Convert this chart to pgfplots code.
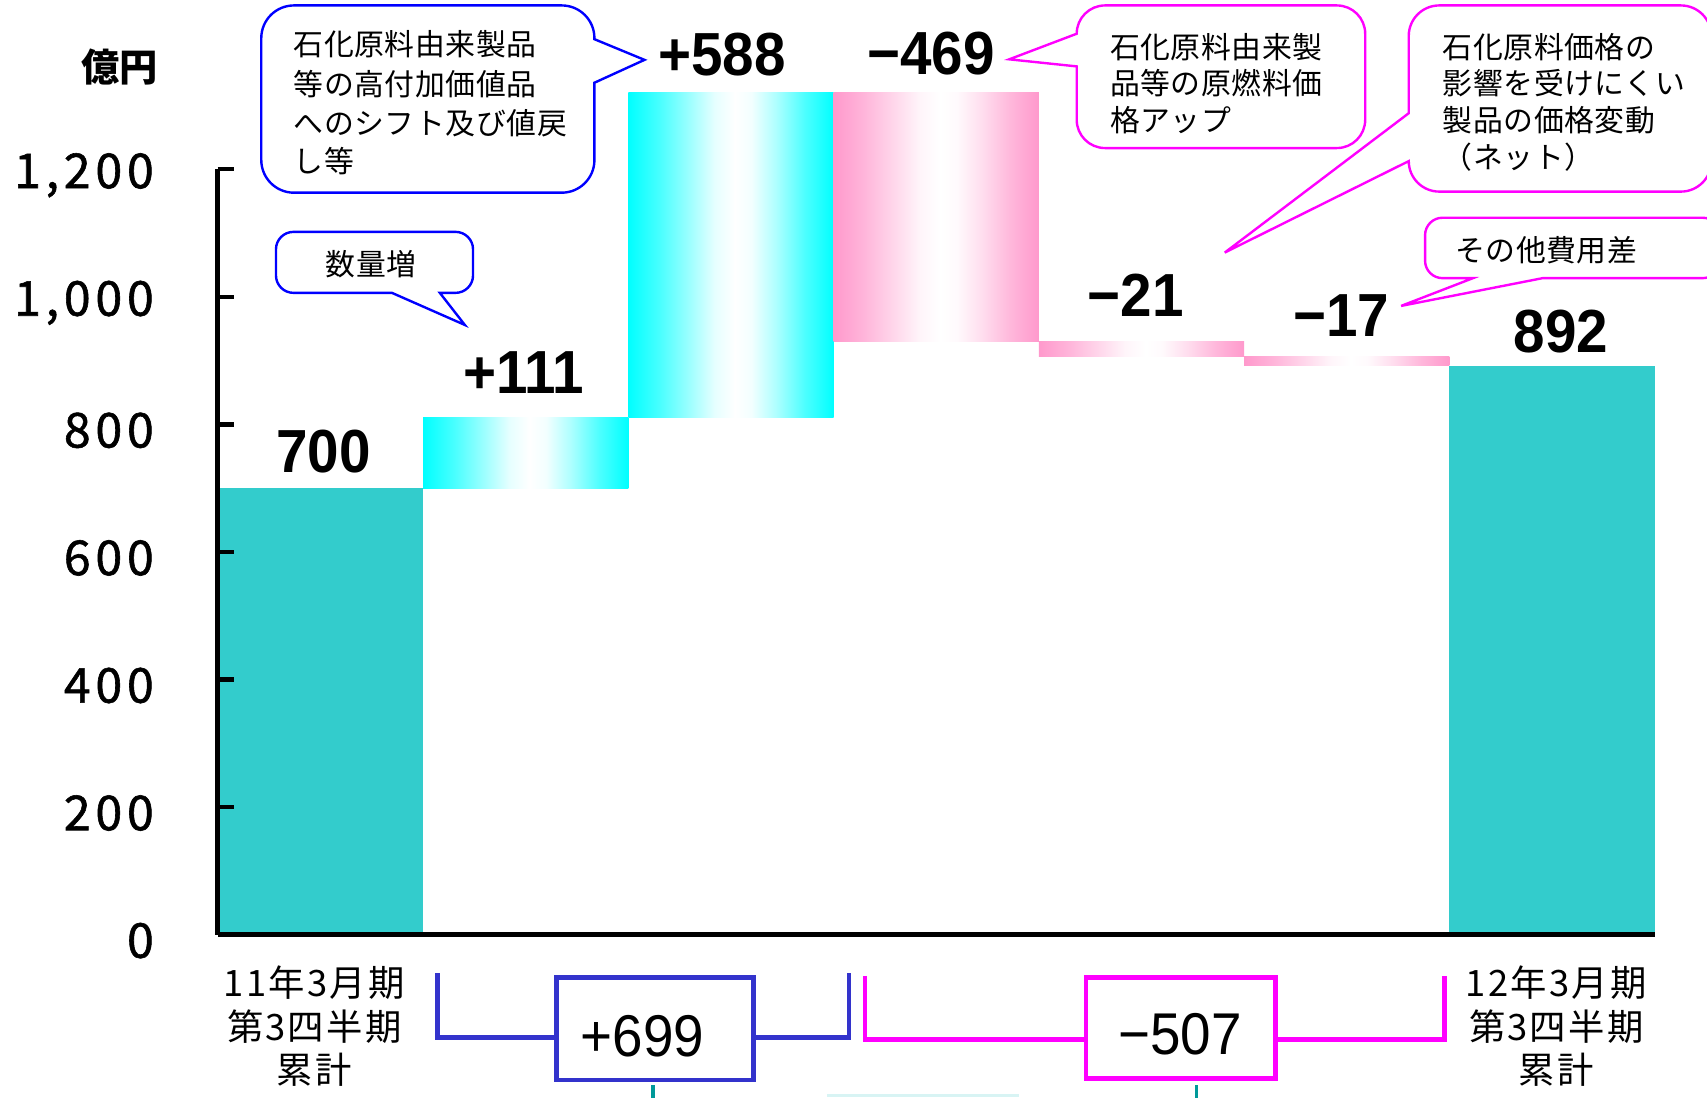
\documentclass[border=0pt]{standalone}
\usepackage{fontspec}
\setmainfont{Noto Sans CJK JP}
\newfontfamily\numfont[FakeStretch=0.93]{Liberation Sans}
\newfontfamily\tickfont[LetterSpace=10, FakeBold=1.2]{Noto Sans CJK JP}
\newfontfamily\catfont[LetterSpace=6]{Noto Sans CJK JP}
\newfontfamily\callfont[LetterSpace=2]{Noto Sans CJK JP}
\usepackage{pgfplots}
\pgfplotsset{compat=1.18}
\definecolor{teal1}{HTML}{33CCCC}
\definecolor{cyn}{HTML}{00FFFF}
\definecolor{pnk}{HTML}{FF99CC}
\definecolor{bblue}{HTML}{3333CC}
\definecolor{cblue}{HTML}{0000FF}
\definecolor{mag}{HTML}{FF00FF}
\definecolor{tealdark}{HTML}{009999}
\definecolor{lightcy}{HTML}{D8F4F4}
\pgfdeclarehorizontalshading{cyshade}{100bp}{color(0bp)=(cyn); color(25bp)=(cyn); color(32.5bp)=(cyn!72!white); color(40bp)=(cyn!38!white); color(46bp)=(cyn!10!white); color(51bp)=(white); color(55bp)=(cyn!5!white); color(61bp)=(cyn!32!white); color(68bp)=(cyn!70!white); color(75bp)=(cyn); color(100bp)=(cyn)}
\pgfdeclarehorizontalshading{pkshade}{100bp}{color(0bp)=(pnk); color(25bp)=(pnk); color(32.5bp)=(pnk!72!white); color(40bp)=(pnk!38!white); color(46bp)=(pnk!10!white); color(51bp)=(white); color(55bp)=(pnk!5!white); color(61bp)=(pnk!32!white); color(68bp)=(pnk!70!white); color(75bp)=(pnk); color(100bp)=(pnk)}
\begin{document}
\begin{tikzpicture}
\path[use as bounding box] (0,0) rectangle (156.8mm,-100.8mm);
\begin{axis}[
  at={(20mm,-85.85mm)}, anchor=south west,
  scale only axis, width=132mm, height=70.3mm,
  xmin=0, xmax=7, ymin=0, ymax=1200,
  clip=false, axis on top,
  axis x line*=bottom, axis y line*=left,
  axis line style={-, line width=0.45mm, black},
  ytick={0,200,...,1200},
  tick align=inside,
  major tick length=1.45mm,
  ytick style={line width=0.4mm, black},
  xtick={0.47,6.52},
  xtick style={draw=none},
  xticklabels={{11年3月期\\第3四半期\\累計},{12年3月期\\第3四半期\\累計}},
  xticklabel style={align=center, anchor=north, inner sep=0pt, yshift=-2.8mm, font=\catfont\fontsize{9.5}{11.4}\selectfont},
  yticklabel style={anchor=east, inner sep=0pt, xshift=-5.8mm, yshift=-0.55mm, font=\tickfont\fontsize{12.6}{14}\selectfont},
  /pgf/number format/1000 sep={,},
  /pgf/number format/assume math mode=true,
]
% bars: x from left edge to right edge, low to high
\addplot[draw=none, fill=teal1] coordinates {(0,0) (1,0) (1,700) (0,700)};
\addplot[draw=none, shading=cyshade] coordinates {(1,700) (2,700) (2,811) (1,811)};
\addplot[draw=none, shading=cyshade] coordinates {(2,811) (3,811) (3,1320) (2,1320)};
\addplot[draw=none, shading=pkshade] coordinates {(3,930) (4,930) (4,1320) (3,1320)};
\addplot[draw=none, shading=pkshade] coordinates {(4,906) (5,906) (5,930) (4,930)};
\addplot[draw=none, shading=pkshade] coordinates {(5,892) (6,892) (6,906) (5,906)};
\addplot[draw=none, fill=teal1] coordinates {(6,0) (7,0) (7,892) (6,892)};
\end{axis}
\begin{scope}[x=0.1mm, y=-0.1mm]
% unit label
\node[font=\bfseries\fontsize{10}{12}\selectfont, inner sep=0] at (110,62) {億円};
% value labels
\begin{scope}[every node/.style={inner sep=0, font=\numfont\bfseries\fontsize{15.9}{18}\selectfont}]
\node at (297,415) {700};
\node at (481,342) {+111};
\node at (663,50) {+588};
\node at (855,49) {−469};
\node at (1043,271) {−21};
\node at (1232,290) {−17};
\node at (1434,305) {892};
\end{scope}
% callout 1 (blue)
\draw[cblue, line width=0.22mm] (270,5) -- (516,5) arc[start angle=90,end angle=0,radius=3mm] -- (546,36) -- (592,55) -- (546,76) -- (546,147) arc[start angle=0,end angle=-90,radius=3mm] -- (270,177) arc[start angle=-90,end angle=-180,radius=3mm] -- (240,35) arc[start angle=180,end angle=90,radius=3mm] -- cycle;
% callout 2 (blue)
\draw[cblue, line width=0.22mm] (269.5,213) -- (418.5,213) arc[start angle=90,end angle=0,radius=1.6mm] -- (434.5,253) arc[start angle=0,end angle=-90,radius=1.6mm] -- (404,269) -- (427,298.5) -- (360,269) -- (269.5,269) arc[start angle=-90,end angle=-180,radius=1.6mm] -- (253.5,229) arc[start angle=180,end angle=90,radius=1.6mm] -- cycle;
% callout 3 (magenta)
\draw[mag, line width=0.22mm] (1015,5) -- (1228,5) arc[start angle=90,end angle=0,radius=2.6mm] -- (1254,110) arc[start angle=0,end angle=-90,radius=2.6mm] -- (1015,136) arc[start angle=-90,end angle=-180,radius=2.6mm] -- (989,61) -- (927,54.5) -- (989,31) arc[start angle=180,end angle=90,radius=2.6mm] -- cycle;
% callout 4 (magenta)
\draw[mag, line width=0.22mm] (1322,5) -- (1544,5) arc[start angle=90,end angle=0,radius=2.8mm] -- (1572,148) arc[start angle=0,end angle=-90,radius=2.8mm] -- (1322,176) arc[start angle=-90,end angle=-180,radius=2.8mm] -- (1125,232) -- (1294,104) -- (1294,33) arc[start angle=180,end angle=90,radius=2.8mm] -- cycle;
% callout 5 (magenta)
\draw[mag, line width=0.22mm] (1325,200) -- (1564,200) arc[start angle=90,end angle=0,radius=1.6mm] -- (1580,239.5) arc[start angle=0,end angle=-90,radius=1.6mm] -- (1417,255.5) -- (1287,281) -- (1353,255.5) -- (1325,255.5) arc[start angle=-90,end angle=-180,radius=1.6mm] -- (1309,216) arc[start angle=180,end angle=90,radius=1.6mm] -- cycle;
% callout texts
\begin{scope}[every node/.style={inner sep=0, anchor=west, font=\callfont\fontsize{7.8}{9.6}\selectfont}]
\node at (269,41) {石化原料由来製品};
\node at (269,77.5) {等の高付加価値品};
\node at (269,113.5) {へのシフト及び値戻};
\node at (269,148) {し等};
\node[anchor=center] at (341,243) {数量増};
\node at (1019,43) {石化原料由来製};
\node at (1019,76.5) {品等の原燃料価};
\node at (1019,110) {格アップ};
\node at (1324.5,43) {石化原料価格の};
\node at (1324.5,76.5) {影響を受けにくい};
\node at (1324.5,110) {製品の価格変動};
\node at (1324.5,144) {（ネット）};
\node at (1336,230) {その他費用差};
\end{scope}
% bottom brackets
\draw[bblue, line width=0.42mm] (402,894) -- (402,953) -- (511,953);
\draw[bblue, line width=0.42mm] (692,953) -- (780,953) -- (780,894);
\draw[bblue, line width=0.45mm] (511,898) rectangle (692,992);
\draw[mag, line width=0.42mm] (794.5,896.5) -- (794.5,955) -- (997.5,955);
\draw[mag, line width=0.42mm] (1172,955) -- (1327,955) -- (1327,896.5);
\draw[mag, line width=0.45mm] (997.5,898) rectangle (1172,991);
\node[inner sep=0, font=\numfont\fontsize{15.4}{18}\selectfont] at (590,952) {+699};
\node[inner sep=0, font=\numfont\fontsize{15.4}{18}\selectfont] at (1084,950) {−507};
\draw[tealdark, line width=0.35mm] (600,997) -- (600,1012);
\draw[tealdark, line width=0.35mm] (1099,997) -- (1099,1012);
\draw[lightcy, line width=0.3mm] (760,1006) -- (936,1006);
\end{scope}
\end{tikzpicture}
\end{document}
